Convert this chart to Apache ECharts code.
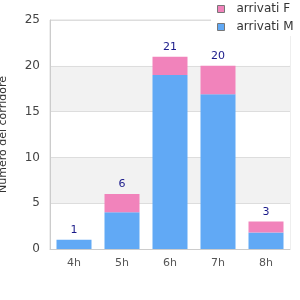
<!DOCTYPE html>
<html>
<head>
<meta charset="utf-8">
<script src="https://cdn.jsdelivr.net/npm/echarts@6/dist/echarts.min.js"></script>
<style>
  html, body { margin: 0; padding: 0; background: #fff; }
  #chart { width: 300px; height: 300px; }
</style>
</head>
<body>
<div id="chart"></div>
<script>
  const categories = ['4h', '5h', '6h', '7h', '8h'];
  const arrivatiM = [1, 4, 19, 16.9, 1.8];
  const arrivatiF = [0, 2, 2, 3.1, 1.2];
  const totals = [1, 6, 21, 20, 3];
  const yTicks = [0, 5, 10, 15, 20, 25];

  const pink = '#f183bb';
  const blue = '#61a9f5';

  const chart = echarts.init(document.getElementById('chart'));
  chart.setOption({
    animation: false,
    textStyle: { fontFamily: 'DejaVu Sans' },
    grid: {
      left: 50, right: 10, top: 20, bottom: 51,
      outerBoundsMode: 'none',
      containLabel: false,
      show: true, borderColor: '#ddd', borderWidth: 1
    },
    legend: {
      orient: 'vertical',
      left: 211,
      top: 0,
      padding: [3, 4, 3, 6],
      itemGap: 6,
      itemWidth: 7,
      itemHeight: 7,
      backgroundColor: '#fff',
      textStyle: { fontSize: 12, color: '#333', padding: [0, 0, 0, 7] },
      data: [
        { name: 'arrivati F', icon: 'rect', itemStyle: { borderColor: '#777', borderWidth: 1 } },
        { name: 'arrivati M', icon: 'rect', itemStyle: { borderColor: '#777', borderWidth: 1 } }
      ]
    },
    xAxis: {
      type: 'category',
      data: categories,
      axisLine: { lineStyle: { color: '#ccc' } },
      axisTick: { show: false },
      axisLabel: { fontSize: 11, color: '#555', margin: 9 }
    },
    yAxis: {
      type: 'value',
      min: yTicks[0],
      max: yTicks[yTicks.length - 1],
      interval: 5,
      name: 'Numero del corridore',
      nameLocation: 'middle',
      nameGap: 41,
      nameTextStyle: { fontSize: 11, color: '#333' },
      axisLine: { show: true, lineStyle: { color: '#ccc' } },
      axisTick: { show: false },
      axisLabel: { fontSize: 12, color: '#444', margin: 10 },
      splitLine: { lineStyle: { color: '#ddd' } },
      splitArea: { show: true, areaStyle: { color: ['#fff', '#f2f2f2'] } }
    },
    series: [
      {
        name: 'arrivati M',
        type: 'bar',
        stack: 'tot',
        barWidth: 35,
        data: arrivatiM,
        itemStyle: { color: blue }
      },
      {
        name: 'arrivati F',
        type: 'bar',
        stack: 'tot',
        barWidth: 35,
        data: arrivatiF,
        itemStyle: { color: pink },
        label: {
          show: true,
          position: 'top',
          distance: 4,
          fontSize: 11,
          color: '#1a1a8a',
          formatter: (p) => totals[p.dataIndex]
        }
      }
    ]
  });
</script>
</body>
</html>
